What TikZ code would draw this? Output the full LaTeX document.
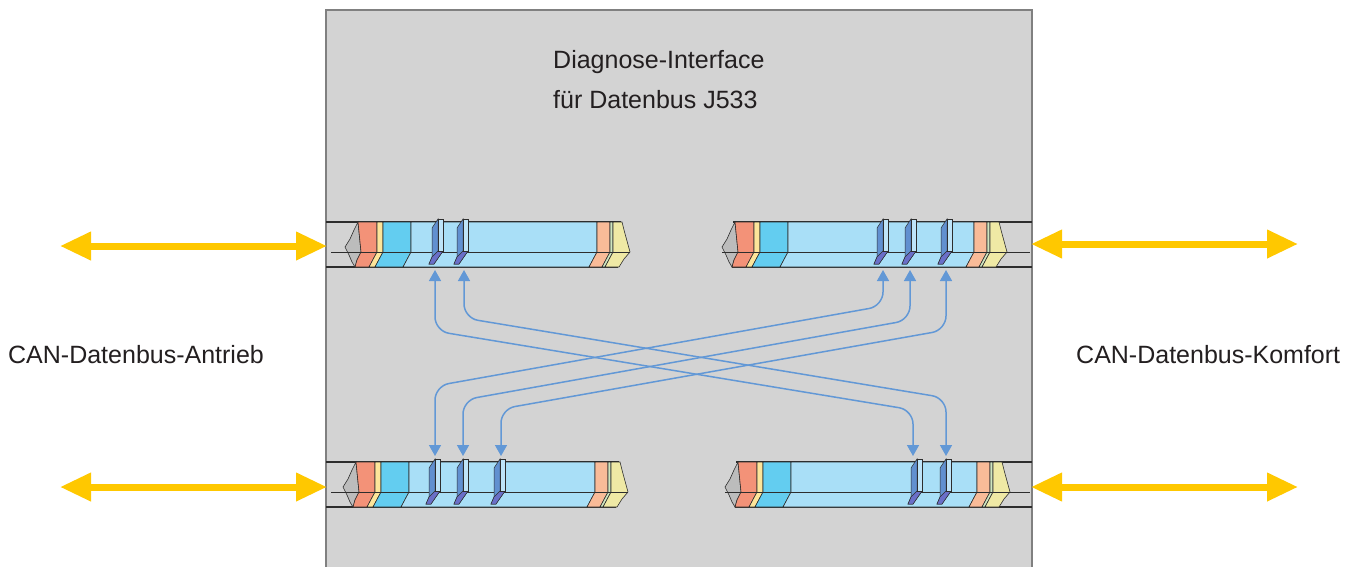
\documentclass[tikz,border=0pt]{standalone}
\usepackage{fontspec}
\setmainfont{Liberation Sans}
\usetikzlibrary{arrows.meta}

\definecolor{panelfill}{RGB}{211,211,211}
\definecolor{paneledge}{RGB}{128,128,128}
\definecolor{txt}{RGB}{35,31,32}
\definecolor{buscol}{RGB}{255,200,0}
\definecolor{linkcol}{RGB}{98,152,214}
\definecolor{torncol}{RGB}{188,188,188}
\definecolor{salmoncol}{RGB}{243,146,120}
\definecolor{creamcol}{RGB}{253,229,154}
\definecolor{cyancol}{RGB}{99,205,240}
\definecolor{skycol}{RGB}{169,223,247}
\definecolor{peachcol}{RGB}{249,187,152}
\definecolor{mintcol}{RGB}{207,230,192}
\definecolor{lemoncol}{RGB}{239,233,165}
\definecolor{bladeside}{RGB}{97,144,208}
\definecolor{bladelow}{RGB}{106,111,200}
\definecolor{bladefront}{RGB}{190,228,248}
\definecolor{wire}{RGB}{45,45,45}

\tikzset{
  band/.style={draw=wire, line width=0.6pt},
  wireline/.style={draw=wire, line width=1.2pt},
  canarrow/.style={draw=buscol, line width=7pt,
    {Triangle[length=31pt,width=27pt]}-{Triangle[length=31pt,width=27pt]}},
  link/.style={draw=linkcol, line width=1.5pt, rounded corners=14pt,
    {Triangle[length=11pt,width=12pt]}-{Triangle[length=11pt,width=12pt]}},
  label/.style={font=\fontsize{25}{30}\selectfont, text=txt, inner sep=0pt, anchor=base west},
  % one cable section of the bus: torn end, coloured conductor bands, tapered end
  cable/.pic={
    \filldraw[band, fill=torncol] (0,0) -- (-4,8) -- (-8,17) -- (-13,25) -- (-9,33) -- (-6,40) -- (-3,45)
      -- (-1,38) -- (3,30) -- (1,10) -- cycle;
    \filldraw[band, fill=salmoncol] (0,0) -- (19,0) -- (19,30) -- (11,45) -- (-3,45) -- (-1,38) -- (3,30) -- (1,10) -- cycle;
    \filldraw[band, fill=creamcol] (19,0) -- (25,0) -- (25,30) -- (17,45) -- (11,45) -- (19,30) -- cycle;
    \filldraw[band, fill=cyancol] (25,0) -- (53,0) -- (53,30) -- (45,45) -- (17,45) -- (25,30) -- cycle;
    \filldraw[band, fill=skycol] (53,0) -- (239,0) -- (239,30) -- (231,45) -- (45,45) -- (53,30) -- cycle;
    \filldraw[band, fill=peachcol] (239,0) -- (252,0) -- (252,30) -- (244,45) -- (231,45) -- (239,30) -- cycle;
    \filldraw[band, fill=mintcol] (252,0) -- (255,0) -- (255,30) -- (247,45) -- (244,45) -- (252,30) -- cycle;
    \filldraw[band, fill=lemoncol] (255,0) -- (264,0) -- (266,8) -- (272,30) -- (266,37) -- (261,45) -- (247,45) -- (255,30) -- cycle;
  },
  % contact blade sitting in the cable
  blade/.pic={
    \filldraw[draw=wire, line width=0.5pt, fill=bladeside] (0,-3) -- (-6,6) -- (-6,35) -- (-9,42) -- (-4,42) -- (5,29) -- (0,29) -- cycle;
    \filldraw[draw=wire, line width=0.5pt, fill=bladelow] (-6,35) -- (0,29) -- (5,29) -- (-4,42) -- (-9,42) -- cycle;
    \filldraw[draw=wire, line width=0.5pt, fill=bladefront] (0,-3) rectangle (5,29);
  }
}

\begin{document}
\begin{tikzpicture}[x=1pt,y=-1pt]
\clip (0,0) rectangle (1364,566);
\fill[white] (0,0) rectangle (1364,566);

% gateway housing
\filldraw[fill=panelfill, draw=paneledge, line width=2pt] (326,600) -- (326,10) -- (1032,10) -- (1032,600);

% cable outlines
\draw[wireline] (326,222) -- (621,222);  \draw[wireline] (326,267) -- (618,267);
\draw[wireline] (733,222) -- (1032,222); \draw[wireline] (732,267) -- (1032,267);
\draw[wireline] (326,462) -- (619,462);  \draw[wireline] (326,507) -- (616,507);
\draw[wireline] (736,462) -- (1032,462); \draw[wireline] (735,507) -- (1032,507);

% cable sections
\pic (cabTL) at (358,222) {cable};
\pic (cabTR) at (735,222) {cable};
\pic (cabBL) at (356,462) {cable};
\pic (cabBR) at (738,462) {cable};

% centre lines
\draw[band, line width=0.9pt] (331,252) -- (630,252);
\draw[band, line width=0.9pt] (722,252) -- (1030,252);
\draw[band, line width=0.9pt] (331,492) -- (628,492);
\draw[band, line width=0.9pt] (725,492) -- (1030,492);

% contact blades
\pic (blTL1) at (438,222) {blade};
\pic (blTL2) at (463,222) {blade};
\pic (blTR1) at (883,222) {blade};
\pic (blTR2) at (911,222) {blade};
\pic (blTR3) at (947,222) {blade};
\pic (blBL1) at (435,462) {blade};
\pic (blBL2) at (463,462) {blade};
\pic (blBL3) at (500,462) {blade};
\pic (blBR1) at (917,462) {blade};
\pic (blBR2) at (946,462) {blade};

% link end points
\coordinate (tl1) at (435,270);
\coordinate (tl2) at (464,270);
\coordinate (tr1) at (883,270);
\coordinate (tr2) at (910,270);
\coordinate (tr3) at (946,270);
\coordinate (bl1) at (435,456);
\coordinate (bl2) at (463,456);
\coordinate (bl3) at (501,456);
\coordinate (br1) at (913,456);
\coordinate (br2) at (946,456);

% message routing between the buses
\draw[link] (tl1) -- (435,331) -- (913,410) -- (br1);
\draw[link] (tl2) -- (464,318) -- (946,398) -- (br2);
\draw[link] (tr1) -- (883,306) -- (435,386) -- (bl1);
\draw[link] (tr2) -- (910,320) -- (463,400) -- (bl2);
\draw[link] (tr3) -- (946,330) -- (501,409) -- (bl3);

% bus connections
\coordinate (aTLa) at (60,246);   \coordinate (aTLb) at (327,246);
\coordinate (aBLa) at (60,487);   \coordinate (aBLb) at (327,487);
\coordinate (aTRa) at (1031,244); \coordinate (aTRb) at (1298,244);
\coordinate (aBRa) at (1031,487); \coordinate (aBRb) at (1298,487);
\draw[canarrow] (aTLa) -- (aTLb);
\draw[canarrow] (aBLa) -- (aBLb);
\draw[canarrow] (aTRa) -- (aTRb);
\draw[canarrow] (aBRa) -- (aBRb);

% labels
\node[label] (title1) at (553,68) {Diagnose-Interface};
\node[label] (title2) at (553,108) {für Datenbus J533};
\node[label] (drive) at (8,363) {CAN-Datenbus-Antrieb};
\node[label] (comfort) at (1076,363) {CAN-Datenbus-Komfort};
\end{tikzpicture}
\end{document}
